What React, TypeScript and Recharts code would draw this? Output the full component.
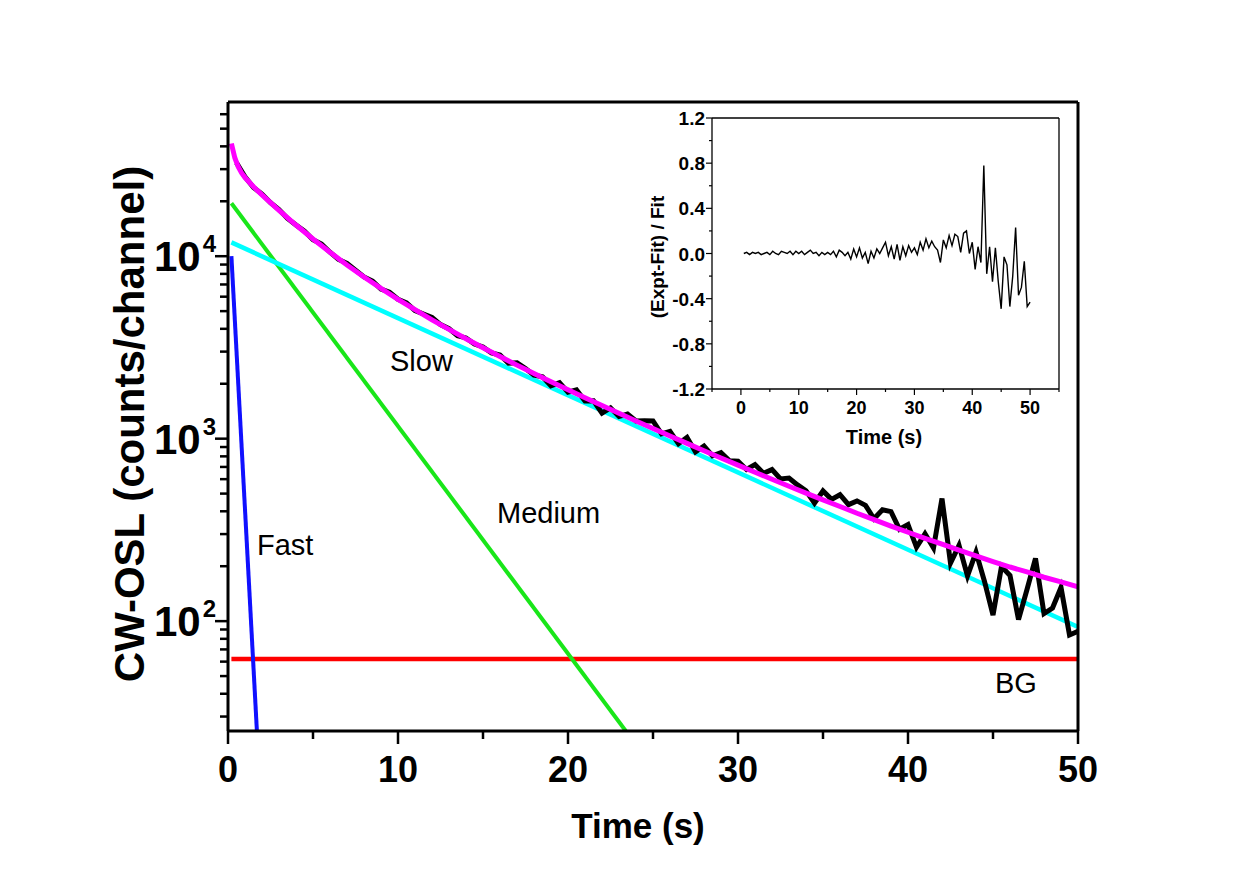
import { LineChart, Line, XAxis, YAxis } from 'recharts'

const FONT = "'Liberation Sans', Arial, Helvetica, sans-serif"

// measured CW-OSL signal, 0.5 s channels
const exptTime = [
  0.5, 1, 1.5, 2, 2.5, 3, 3.5, 4, 4.5, 5,
  5.5, 6, 6.5, 7, 7.5, 8, 8.5, 9, 9.5, 10,
  10.5, 11, 11.5, 12, 12.5, 13, 13.5, 14, 14.5, 15,
  15.5, 16, 16.5, 17, 17.5, 18, 18.5, 19, 19.5, 20,
  20.5, 21, 21.5, 22, 22.5, 23, 23.5, 24, 24.5, 25,
  25.5, 26, 26.5, 27, 27.5, 28, 28.5, 29, 29.5, 30,
  30.5, 31, 31.5, 32, 32.5, 33, 33.5, 34, 34.5, 35,
  35.5, 36, 36.5, 37, 37.5, 38, 38.5, 39, 39.5, 40,
  40.5, 41, 41.5, 42, 42.5, 43, 43.5, 44, 44.5, 45,
  45.5, 46, 46.5, 47, 47.5, 48, 48.5, 49, 49.5, 50,
]
const exptCounts = [
  32530, 27250, 23790, 21900, 19650, 18020, 16100, 14820, 13710, 12300,
  11650, 10510, 9605, 9137, 8388, 7699, 7306, 6596, 6344, 5806,
  5545, 5038, 4824, 4617, 4219, 4010, 3669, 3565, 3301, 3180,
  2949, 2875, 2591, 2606, 2424, 2230, 2183, 1948, 2027, 1796,
  1850, 1609, 1611, 1381, 1475, 1322, 1364, 1250, 1252, 1251,
  1062, 1096, 938, 1017, 846, 911, 805, 839, 756, 752,
  678, 721, 646, 677, 602, 609, 558, 518, 443, 517,
  465, 493, 435, 456, 431, 364, 408, 398, 319, 338,
  254, 301, 252, 470, 208, 260, 177, 239, 165, 108,
  199, 178, 102, 149, 221, 110, 118, 153, 84, 88,
]
// (Expt-Fit)/Fit for the same channels
const residuals = [
  0.00, 0.01, -0.01, 0.01, 0.00, 0.01, -0.01, 0.00, 0.01, -0.01,
  0.02, 0.00, -0.01, 0.02, 0.01, 0.00, 0.02, -0.01, 0.02, 0.00,
  0.02, -0.01, 0.01, 0.03, 0.00, 0.01, -0.02, 0.01, -0.01, 0.01,
  -0.01, 0.02, -0.03, 0.03, 0.01, -0.02, 0.01, -0.05, 0.04, -0.03,
  0.05, -0.04, 0.01, -0.09, 0.02, -0.04, 0.04, 0.00, 0.05, 0.10,
  -0.02, 0.06, -0.05, 0.08, -0.06, 0.06, -0.02, 0.07, 0.01, 0.05,
  -0.01, 0.10, 0.03, 0.13, 0.05, 0.11, 0.06, 0.03, -0.08, 0.12,
  0.05, 0.16, 0.07, 0.17, 0.15, 0.01, 0.18, 0.20, 0.00, 0.10,
  -0.14, 0.06, -0.08, 0.78, -0.18, 0.06, -0.25, 0.05, -0.25, -0.49,
  -0.03, -0.10, -0.47, -0.20, 0.23, -0.37, -0.30, -0.07, -0.47, -0.43,
]

// total fit curve
const fitTime = [
  0.2, 0.4, 0.6, 0.8, 1, 1.5, 2, 2.5, 3, 4,
  5, 6, 7, 8, 9, 10, 11, 12, 13, 14,
  15, 16, 17, 18, 19, 20, 21, 22, 23, 24,
  25, 26, 27, 28, 29, 30, 31, 32, 33, 34,
  35, 36, 37, 38, 39, 40, 41, 42, 43, 44,
  45, 46, 47, 48, 49, 50,
]
const fitCounts = [
  41460, 34640, 30910, 28610, 26980, 24030, 21680, 19650, 17850, 14820,
  12430, 10510, 8958, 7699, 6663, 5806, 5089, 4483, 3970, 3530,
  3149, 2819, 2530, 2276, 2051, 1852, 1676, 1518, 1377, 1250,
  1137, 1034, 942, 859, 784, 716, 655, 599, 549, 503,
  462, 425, 390, 360, 332, 307, 284, 264, 245, 228,
  212, 198, 186, 174, 164, 154,
]

// fitted components (straight on log axis, end points)
const fastTime = [0.2, 1.7]
const fastCounts = [10000, 25]
const mediumTime = [0.2, 23.4]
const mediumCounts = [19500, 25]
const slowTime = [0.2, 50]
const slowCounts = [11900, 93]
const bgTime = [0.2, 50]
const bgCounts = [62, 62]

const mainXTicks = [0, 5, 10, 15, 20, 25, 30, 35, 40, 45, 50]
const mainYTicks = [
  30, 40, 50, 60, 70, 80, 90,
  100, 200, 300, 400, 500, 600, 700, 800, 900,
  1000, 2000, 3000, 4000, 5000, 6000, 7000, 8000, 9000,
  10000, 20000, 30000, 40000, 50000, 60000,
]
const insetXTicks = [-5, 0, 5, 10, 15, 20, 25, 30, 35, 40, 45, 50, 55]
const insetYTicks = [-1.2, -1.0, -0.8, -0.6, -0.4, -0.2, 0, 0.2, 0.4, 0.6, 0.8, 1.0, 1.2]

const toPoints = (ts: number[], vs: number[]) => ts.map((t, i) => ({ t, v: vs[i] }))

const exptData = toPoints(exptTime, exptCounts)
const residualData = toPoints(exptTime, residuals)
const fitData = toPoints(fitTime, fitCounts)
const fastData = toPoints(fastTime, fastCounts)
const mediumData = toPoints(mediumTime, mediumCounts)
const slowData = toPoints(slowTime, slowCounts)
const bgData = toPoints(bgTime, bgCounts)

function MainXTick({ x, y, payload }: any) {
  const major = payload.value % 10 === 0
  return (
    <g>
      <line x1={x} x2={x} y1={y} y2={y + (major ? 13 : 8)} stroke="#000" strokeWidth={2.5} />
      {major && (
        <text x={x} y={y + 51} textAnchor="middle" fontFamily={FONT} fontWeight="bold" fontSize={36} fill="#000">
          {payload.value}
        </text>
      )}
    </g>
  )
}

function MainYTick({ x, y, payload }: any) {
  const lg = Math.log10(payload.value)
  const major = Math.abs(lg - Math.round(lg)) < 1e-6
  return (
    <g>
      <line x1={x} x2={x - (major ? 13 : 8)} y1={y} y2={y} stroke="#000" strokeWidth={2.5} />
      {major && (
        <text x={x - 12} y={y + 15} textAnchor="end" fontFamily={FONT} fontWeight="bold" fontSize={42} fill="#000">
          10<tspan dx={2} dy={-19} fontSize={24}>{Math.round(lg)}</tspan>
        </text>
      )}
    </g>
  )
}

function InsetXTick({ x, y, payload }: any) {
  const major = payload.value % 10 === 0 && payload.value >= 0 && payload.value <= 50
  return (
    <g>
      <line x1={x} x2={x} y1={y} y2={y + (major ? 6 : 3)} stroke="#000" strokeWidth={1.2} />
      {major && (
        <text x={x} y={y + 25} textAnchor="middle" fontFamily={FONT} fontWeight="bold" fontSize={18} fill="#000">
          {payload.value}
        </text>
      )}
    </g>
  )
}

function InsetYTick({ x, y, payload }: any) {
  const q = payload.value / 0.4
  const major = Math.abs(q - Math.round(q)) < 1e-6
  return (
    <g>
      <line x1={x} x2={x - (major ? 6 : 3)} y1={y} y2={y} stroke="#000" strokeWidth={1.2} />
      {major && (
        <text x={x - 7} y={y + 7} textAnchor="end" fontFamily={FONT} fontWeight="bold" fontSize={19} fill="#000">
          {payload.value.toFixed(1)}
        </text>
      )}
    </g>
  )
}

const frame = { stroke: '#000', strokeWidth: 3 }
const insetFrame = { stroke: '#000', strokeWidth: 1.3 }

export default function App() {
  return (
    <div style={{ position: 'absolute', left: 0, top: 0, width: 1247, height: 871, background: '#fff' }}>
      {/* plot area: x 228..1078, y 102..731 */}
      <LineChart width={1247} height={871} margin={{ top: 92, right: 159, bottom: 110, left: 168 }}>
        <XAxis
          type="number"
          dataKey="t"
          domain={[0, 50]}
          allowDataOverflow
          ticks={mainXTicks}
          interval={0}
          height={30}
          tickSize={0}
          tickMargin={0}
          tickLine={false}
          tick={(p: any) => <MainXTick {...p} />}
          axisLine={frame}
        />
        <XAxis xAxisId="top" orientation="top" type="number" dataKey="t" domain={[0, 50]} height={10} tick={false} tickLine={false} axisLine={frame} />
        <YAxis
          type="number"
          scale="log"
          domain={[25, 70000]}
          allowDataOverflow
          ticks={mainYTicks}
          interval={0}
          width={60}
          tickSize={0}
          tickMargin={0}
          tickLine={false}
          tick={(p: any) => <MainYTick {...p} />}
          axisLine={frame}
        />
        <YAxis yAxisId="right" orientation="right" type="number" scale="log" domain={[25, 70000]} allowDataOverflow width={10} tick={false} tickLine={false} axisLine={frame} />
        <Line data={bgData} dataKey="v" type="linear" stroke="#ff0000" strokeWidth={4.5} dot={false} isAnimationActive={false} />
        <Line data={fastData} dataKey="v" type="linear" stroke="#1010ff" strokeWidth={4} dot={false} isAnimationActive={false} />
        <Line data={mediumData} dataKey="v" type="linear" stroke="#19e619" strokeWidth={4} dot={false} isAnimationActive={false} />
        <Line data={slowData} dataKey="v" type="linear" stroke="#00ffff" strokeWidth={4.5} dot={false} isAnimationActive={false} />
        <Line data={exptData} dataKey="v" type="linear" stroke="#000" strokeWidth={5} dot={false} isAnimationActive={false} />
        <Line data={fitData} dataKey="v" type="linear" stroke="#ff00ff" strokeWidth={5} dot={false} isAnimationActive={false} />
      </LineChart>

      {/* inset: residuals, plot area x 712..1059, y 118..389 */}
      <div style={{ position: 'absolute', left: 600, top: 95 }}>
        <LineChart width={480} height={360} margin={{ top: 13, right: 11, bottom: 41, left: 72 }}>
          <XAxis
            type="number"
            dataKey="t"
            domain={[-5, 55]}
            allowDataOverflow
            ticks={insetXTicks}
            interval={0}
            height={25}
            tickSize={0}
            tickMargin={0}
            tickLine={false}
            tick={(p: any) => <InsetXTick {...p} />}
            axisLine={insetFrame}
          />
          <XAxis xAxisId="top" orientation="top" type="number" dataKey="t" domain={[-5, 55]} height={10} tick={false} tickLine={false} axisLine={insetFrame} />
          <YAxis
            type="number"
            domain={[-1.2, 1.2]}
            allowDataOverflow
            ticks={insetYTicks}
            interval={0}
            width={40}
            tickSize={0}
            tickMargin={0}
            tickLine={false}
            tick={(p: any) => <InsetYTick {...p} />}
            axisLine={insetFrame}
          />
          <YAxis yAxisId="right" orientation="right" type="number" domain={[-1.2, 1.2]} width={10} tick={false} tickLine={false} axisLine={insetFrame} />
          <Line data={residualData} dataKey="v" type="linear" stroke="#000" strokeWidth={1.4} dot={false} isAnimationActive={false} />
        </LineChart>
      </div>

      {/* titles and component labels */}
      <svg width={1247} height={871} style={{ position: 'absolute', left: 0, top: 0, pointerEvents: 'none' }}>
        <g fontFamily={FONT} fill="#000">
          <text x={638} y={838} textAnchor="middle" fontWeight="bold" fontSize={35}>Time (s)</text>
          <text transform="translate(144 424) rotate(-90)" textAnchor="middle" fontWeight="bold" fontSize={42}>CW-OSL (counts/channel)</text>
          <text x={390} y={371} fontSize={29}>Slow</text>
          <text x={497} y={523} fontSize={29}>Medium</text>
          <text x={257} y={555} fontSize={29}>Fast</text>
          <text x={995} y={693} fontSize={29}>BG</text>
          <text x={884} y={444} textAnchor="middle" fontWeight="bold" fontSize={20}>Time (s)</text>
          <text transform="translate(664 257) rotate(-90)" textAnchor="middle" fontWeight="bold" fontSize={19}>(Expt-Fit) / Fit</text>
        </g>
      </svg>
    </div>
  )
}
